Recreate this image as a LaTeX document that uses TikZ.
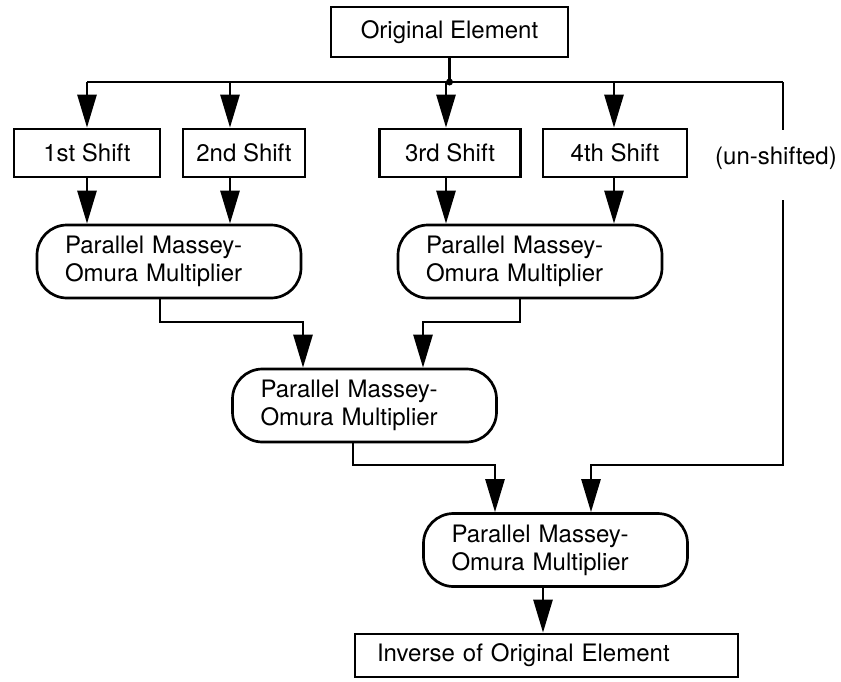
\documentclass[tikz,border=0pt]{standalone}
\usepackage{fontspec}
\setmainfont{TeX Gyre Heros}
\usetikzlibrary{arrows.meta}
\begin{document}
\begin{tikzpicture}[x=1pt,y=-1pt,
  every node/.style={font=\fontsize{24}{28}\selectfont},
  line/.style={line width=2.7pt},
  arr/.style={line width=2.7pt,-{Triangle[length=33pt,width=19pt]}},
  stepbox/.style={draw,line width=2.7pt,rectangle,inner sep=0pt,minimum height=48pt},
  mult/.style={draw,line width=2.7pt,rounded corners=30pt,minimum height=73pt,
    inner xsep=28pt,inner ysep=4pt,text width=208pt,align=left}]
\useasboundingbox (0,0) rectangle (841,681);

% blocks
\node[stepbox,minimum width=237pt,minimum height=50pt] (orig) at (449.5,32) {Original Element};
\node[stepbox,minimum width=146pt] (s1) at (87,153) {1st Shift};
\node[stepbox,minimum width=122pt] (s2) at (244,153) {2nd Shift};
\node[stepbox,minimum width=141pt] (s3) at (450,153) {3rd Shift};
\node[stepbox,minimum width=144pt] (s4) at (615,153) {4th Shift};
\node (uns) at (776,158) {(un-shifted)};
\node[mult] (m1) at (169,261.5) {Parallel Massey-\\Omura Multiplier};
\node[mult] (m2) at (530,261.5) {Parallel Massey-\\Omura Multiplier};
\node[mult] (m3) at (364.5,405.5) {Parallel Massey-\\Omura Multiplier};
\node[mult] (m4) at (555.5,550) {Parallel Massey-\\Omura Multiplier};
\node[draw,line width=2.7pt,minimum height=43pt,inner xsep=22pt,inner ysep=0pt,
  text width=339pt,align=left] (inv) at (546.5,655.5) {Inverse of Original Element};

% distribution bus
\coordinate (j) at (449.5,82);
\coordinate (bl) at (87,82);
\coordinate (br) at (783,82);
\coordinate (a2) at (230,82);
\coordinate (a3) at (446,82);
\coordinate (a4) at (614,82);
\draw[line] (orig.south) -- (j);
\draw[line] (bl) -- (br);
\fill (j) circle (3.5);
\draw[arr] (bl) -- (s1.north);
\draw[arr] (a2) -- (a2 |- s2.north);
\draw[arr] (a3) -- (a3 |- s3.north);
\draw[arr] (a4) -- (a4 |- s4.north);

% shifts into the first multipliers
\draw[arr] (s1.south) -- (s1.south |- m1.north);
\draw[arr] (a2 |- s2.south) -- (a2 |- m1.north);
\draw[arr] (a3 |- s3.south) -- (a3 |- m2.north);
\draw[arr] (a4 |- s4.south) -- (a4 |- m2.north);

% un-shifted path
\coordinate (u1) at (783,130);
\coordinate (u2) at (783,200);
\coordinate (u3) at (783,465);
\coordinate (k4) at (591,465);
\draw[line] (br) -- (u1);
\draw[arr] (u2) -- (u3) -- (k4) -- (k4 |- m4.north);

% multiplier tree
\coordinate (p1) at (160,322);
\coordinate (q1) at (303,322);
\draw[arr] (p1 |- m1.south) -- (p1) -- (q1) -- (q1 |- m3.north);
\coordinate (p2) at (520,322);
\coordinate (q2) at (423,322);
\draw[arr] (p2 |- m2.south) -- (p2) -- (q2) -- (q2 |- m3.north);
\coordinate (p3) at (353,465);
\coordinate (q3) at (495,465);
\draw[arr] (p3 |- m3.south) -- (p3) -- (q3) -- (q3 |- m4.north);
\coordinate (p4) at (543,600);
\draw[arr] (p4 |- m4.south) -- (p4 |- inv.north);
\end{tikzpicture}
\end{document}
